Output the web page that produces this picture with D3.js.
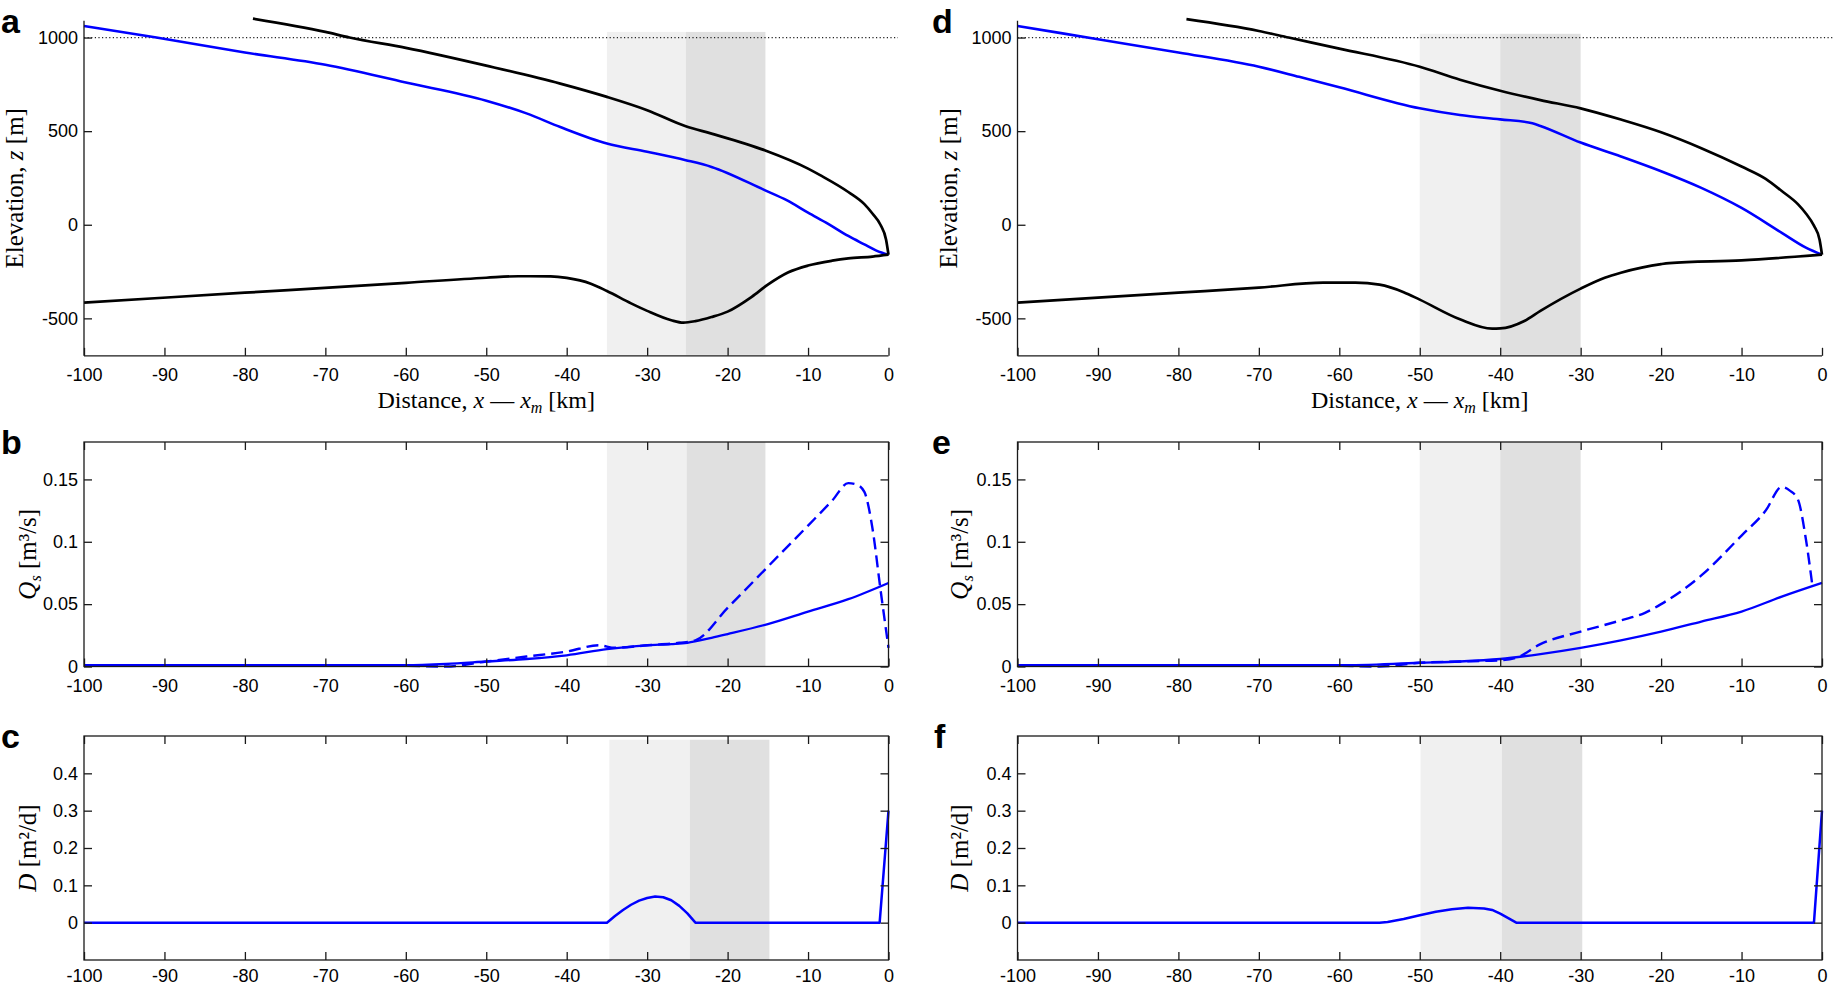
<!DOCTYPE html>
<html><head><meta charset="utf-8">
<script src="https://cdn.jsdelivr.net/npm/d3@7"></script>
<style>body{margin:0;background:#fff}svg{display:block}</style>
</head><body>
<svg id="chart" width="1833" height="985"></svg>
<script>
// ---------- tick labels ----------
const xTicks = [-100,-90,-80,-70,-60,-50,-40,-30,-20,-10,0];
const zTicks = [-500,0,500,1000];
const qTicks = [0,0.05,0.1,0.15];
const dTicks = [0,0.1,0.2,0.3,0.4];
const refLevel = 1000;

// ---------- panel a (elevation) ----------
const surfA_x = [-79,-70,-67,-60,-50,-40.8,-35,-30,-25.2,-22,-15.4,-10,-8.5,-5,-3,-2,-1,-0.3,0];
const surfA_z = [1101,1030,1000,945,850,754,683,612,526,487,398,300,265,175,110,60,0,-80,-160];
const blueA_x = [-100,-91,-80,-70,-60,-50,-45,-40.8,-35,-30,-25.2,-22,-15.4,-12.6,-10,-7.5,-5,-3,-1.5,0];
const blueA_z = [1062,1000,920,855,760,663,595,522,434,390,345,309,185,130,65,5,-60,-105,-138,-160];
const bedA_x  = [-100,-80,-60,-50,-46,-42,-40,-37,-35,-32,-30,-27,-25.5,-24,-22,-20,-17,-15,-12.5,-10,-7,-5,-2,0];
const bedA_z  = [-416,-363,-310,-283,-275,-276,-284,-315,-354,-420,-460,-510,-523,-515,-493,-464,-385,-320,-255,-218,-192,-180,-170,-160];
const shadeA  = [-35,-25.2,-15.3];
const shadeA_z = [-695,1030];

// ---------- panel d (elevation) ----------
const surfD_x = [-79,-70,-66.3,-60,-50,-45,-40,-35,-30,-25,-20,-15,-10,-7,-5,-3,-2,-1,-0.3,0];
const surfD_z = [1098,1035,1000,941,844,775,716,666,622,562,494,409,311,245,180,110,60,-5,-80,-160];
const blueD_x = [-100,-90,-80,-70,-65,-60,-50,-45,-40,-36,-35,-30,-25,-20,-15,-10,-5,-2,0];
const blueD_z = [1062,991,920,844,790,734,622,586,563,542,528,439,365,286,197,90,-43,-122,-160];
const bedD_x  = [-100,-80,-70,-62,-58,-55,-52,-50,-45,-41,-40,-37,-35,-30,-27,-25,-20,-19,-10,0];
const bedD_z  = [-416,-363,-336,-309,-309,-320,-360,-400,-505,-555,-554,-514,-460,-341,-283,-256,-210,-205,-190,-160];
const shadeD  = [-50,-40,-30];
const shadeD_z = [-695,1020];

// ---------- panel b (Qs) ----------
const qSolidB_x = [-100,-60,-55,-50,-45,-40,-35,-30,-27,-25,-22,-20,-15,-10,-5,0];
const qSolidB_y = [0.001,0.001,0.002,0.004,0.006,0.009,0.014,0.017,0.018,0.019,0.023,0.026,0.034,0.044,0.054,0.067];
const qDashB_x  = [-100,-60,-55,-50,-45,-40,-36,-34,-30,-26,-24,-20,-15,-10,-7,-5,-4,-3,-2,-1,0];
const qDashB_y  = [0.0005,0.0005,0,0.004,0.008,0.012,0.017,0.015,0.017,0.019,0.021,0.047,0.080,0.113,0.133,0.147,0.146,0.140,0.111,0.062,0.015];
const shadeB = [-35,-25.1,-15.3];

// ---------- panel e (Qs) ----------
const qSolidE_x = [-100,-60,-50,-45,-40,-35,-30,-25,-20,-15,-10,-5,0];
const qSolidE_y = [0.001,0.001,0.003,0.004,0.006,0.010,0.015,0.021,0.028,0.036,0.044,0.056,0.067];
const qDashE_x  = [-100,-60,-55,-50,-45,-40,-38,-35,-30,-25,-22,-20,-15,-10,-7,-5,-4,-3,-2,-1.2];
const qDashE_y  = [0.0005,0.0005,0,0.003,0.004,0.005,0.007,0.018,0.028,0.037,0.043,0.050,0.073,0.105,0.125,0.144,0.141,0.134,0.102,0.065];
const shadeE = [-50,-40,-30];

// ---------- panel c (D) ----------
const dC_x = [-100,-35,-34,-33,-32,-31,-30,-29,-28,-27,-26,-25,-24,-1.1,0];
const dC_y = [0,0,0.018,0.034,0.048,0.059,0.066,0.070,0.068,0.060,0.045,0.025,0,0,0.3];
const shadeC = [-34.7,-24.7,-14.8];
const shadeC_y = [-0.1,0.49];

// ---------- panel f (D) ----------
const dF_x = [-100,-55,-54,-52,-50,-48,-46,-44,-42,-41,-40,-39,-38,-1,0];
const dF_y = [0,0,0.002,0.01,0.02,0.029,0.036,0.040,0.038,0.034,0.024,0.012,0,0,0.3];
const shadeF = [-49.9,-39.8,-29.8];

// ---------- drawing ----------
const svg = d3.select('#chart');
svg.append('rect').attr('width',1833).attr('height',985).attr('fill','#fff');
const AX = '#1a1a1a';
const SANS = 'Liberation Sans, Arial, sans-serif';
const SERIF = 'Liberation Serif, Times New Roman, serif';

function styleAxis(g, labels){
  g.select('.domain').remove();
  g.selectAll('.tick line').attr('stroke',AX).attr('stroke-width',1.3);
  g.selectAll('.tick text').attr('font-family',SANS).attr('font-size',18).attr('fill','#000');
  if(!labels) g.selectAll('.tick text').remove();
}

function panel(o){
  const x = d3.scaleLinear().domain([-100,0]).range([o.l,o.r]);
  const y = d3.scaleLinear().domain(o.yDom).range([o.b,o.t]);
  const g = svg.append('g');
  const sy0 = o.shadeY ? y(o.shadeY[1]) : o.t;
  const sy1 = o.shadeY ? y(o.shadeY[0]) : o.b;
  g.append('rect').attr('x',x(o.shade[0])).attr('width',x(o.shade[1])-x(o.shade[0]))
    .attr('y',sy0).attr('height',sy1-sy0).attr('fill','#f0f0f0');
  g.append('rect').attr('x',x(o.shade[1])).attr('width',x(o.shade[2])-x(o.shade[1]))
    .attr('y',sy0).attr('height',sy1-sy0).attr('fill','#e0e0e0');
  if(o.dotted){
    g.append('line').attr('x1',o.l).attr('x2',o.dotted).attr('y1',y(refLevel)).attr('y2',y(refLevel))
      .attr('stroke','#222').attr('stroke-width',1.2).attr('stroke-dasharray','1.2,2.4');
  }
  o.lines.forEach(L=>{
    g.append('path').datum(d3.zip(L.x,L.y))
      .attr('d', d3.line().x(d=>x(d[0])).y(d=>y(d[1])).curve(L.curve||d3.curveMonotoneX))
      .attr('fill','none').attr('stroke',L.color).attr('stroke-width',L.w)
      .attr('stroke-dasharray',L.dash||null).attr('stroke-linejoin','round');
  });
  // axes
  const xa = g.append('g').attr('transform',`translate(0,${o.b})`)
    .call(d3.axisBottom(x).tickValues(xTicks).tickFormat(String).tickSizeInner(-8).tickSizeOuter(0).tickPadding(o.xPad||12.5));
  styleAxis(xa,true);
  const ya = g.append('g').attr('transform',`translate(${o.l},0)`)
    .call(d3.axisLeft(y).tickValues(o.yTicks).tickFormat(String).tickSizeInner(-8).tickSizeOuter(0).tickPadding(6));
  styleAxis(ya,true);
  if(o.box){
    const ra = g.append('g').attr('transform',`translate(${o.r},0)`)
      .call(d3.axisRight(y).tickValues(o.yTicks).tickSizeInner(-8).tickSizeOuter(0));
    styleAxis(ra,false);
    const ta = g.append('g').attr('transform',`translate(0,${o.t})`)
      .call(d3.axisTop(x).tickValues(xTicks).tickSizeInner(-8).tickSizeOuter(0));
    styleAxis(ta,false);
    g.append('rect').attr('x',o.l).attr('y',o.t).attr('width',o.r-o.l).attr('height',o.b-o.t)
      .attr('fill','none').attr('stroke',AX).attr('stroke-width',1.3);
  } else {
    g.append('line').attr('x1',o.l).attr('x2',o.r).attr('y1',o.b).attr('y2',o.b).attr('stroke',AX).attr('stroke-width',1.3);
    g.append('line').attr('x1',o.l).attr('x2',o.l).attr('y1',o.t).attr('y2',o.b).attr('stroke',AX).attr('stroke-width',1.3);
  }
  // panel letter
  g.append('text').attr('x',o.letterX).attr('y',o.t+12).text(o.letter)
    .attr('font-family',SANS).attr('font-weight','bold').attr('font-size',34).attr('fill','#000');
  // y label
  const yl = g.append('text').attr('transform',`translate(${o.l-o.ylOff},${(o.t+o.b)/2}) rotate(-90)`)
    .attr('text-anchor','middle').attr('dy','0.35em')
    .attr('font-family',SERIF).attr('font-size',25).attr('fill','#000');
  o.ylabel(yl);
  if(o.xlabel){
    const xl = g.append('text').attr('x',(o.l+o.r)/2).attr('y',o.b+52).attr('text-anchor','middle')
      .attr('font-family',SERIF).attr('font-size',24).attr('fill','#000');
    xl.append('tspan').text('Distance, ');
    xl.append('tspan').attr('font-style','italic').text('x');
    xl.append('tspan').text(' — ');
    xl.append('tspan').attr('font-style','italic').text('x');
    xl.append('tspan').attr('font-style','italic').attr('font-size',16).attr('dy',5).text('m');
    xl.append('tspan').attr('dy',-5).text(' [km]');
  }
  return {x,y};
}

function elevLabel(t){
  t.append('tspan').text('Elevation, ');
  t.append('tspan').attr('font-style','italic').text('z');
  t.append('tspan').text(' [m]');
}
function qLabel(t){
  t.append('tspan').attr('font-style','italic').text('Q');
  t.append('tspan').attr('font-style','italic').attr('font-size',16).attr('dy',5).text('s');
  t.append('tspan').attr('dy',-5).text(' [m³/s]');
}
function dLabel(t){
  t.append('tspan').attr('font-style','italic').text('D');
  t.append('tspan').text(' [m²/d]');
}

const BLUE = '#0000ff';
const colL = [84, 888.5], colR = [1017.5, 1822];
const rowA = {t:20.7, b:355.8, yDom:[-700,1090]};
const rowB = {t:442, b:666.5, yDom:[0,0.18]};
const rowC = {t:736, b:960, yDom:[-0.1,0.5], xPad:9};

panel({l:colL[0], r:colL[1], ...rowA, yTicks:zTicks, box:false, shade:shadeA, shadeY:shadeA_z,
  dotted:898, letter:'a', letterX:1, ylOff:70, ylabel:elevLabel, xlabel:true,
  lines:[
    {x:blueA_x,y:blueA_z,color:BLUE,w:2.6},
    {x:surfA_x,y:surfA_z,color:'#000',w:2.7},
    {x:bedA_x,y:bedA_z,color:'#000',w:2.7}
  ]});
panel({l:colR[0], r:colR[1], ...rowA, yTicks:zTicks, box:false, shade:shadeD, shadeY:shadeD_z,
  dotted:1833, letter:'d', letterX:932, ylOff:69, ylabel:elevLabel, xlabel:true,
  lines:[
    {x:blueD_x,y:blueD_z,color:BLUE,w:2.6},
    {x:surfD_x,y:surfD_z,color:'#000',w:2.7},
    {x:bedD_x,y:bedD_z,color:'#000',w:2.7}
  ]});
panel({l:colL[0], r:colL[1], ...rowB, yTicks:qTicks, box:true, shade:shadeB,
  letter:'b', letterX:1, ylOff:57, ylabel:qLabel,
  lines:[
    {x:qSolidB_x,y:qSolidB_y,color:BLUE,w:2.3},
    {x:qDashB_x,y:qDashB_y,color:BLUE,w:2.4,dash:'12,6'}
  ]});
panel({l:colR[0], r:colR[1], ...rowB, yTicks:qTicks, box:true, shade:shadeE,
  letter:'e', letterX:932, ylOff:58, ylabel:qLabel,
  lines:[
    {x:qSolidE_x,y:qSolidE_y,color:BLUE,w:2.3},
    {x:qDashE_x,y:qDashE_y,color:BLUE,w:2.4,dash:'12,6'}
  ]});
panel({l:colL[0], r:colL[1], ...rowC, yTicks:dTicks, box:true, shade:shadeC, shadeY:shadeC_y,
  letter:'c', letterX:1, ylOff:57, ylabel:dLabel,
  lines:[ {x:dC_x,y:dC_y,color:BLUE,w:2.5,curve:d3.curveLinear} ]});
panel({l:colR[0], r:colR[1], ...rowC, yTicks:dTicks, box:true, shade:shadeF,
  letter:'f', letterX:934, ylOff:58, ylabel:dLabel,
  lines:[ {x:dF_x,y:dF_y,color:BLUE,w:2.5,curve:d3.curveLinear} ]});
</script>
</body></html>
